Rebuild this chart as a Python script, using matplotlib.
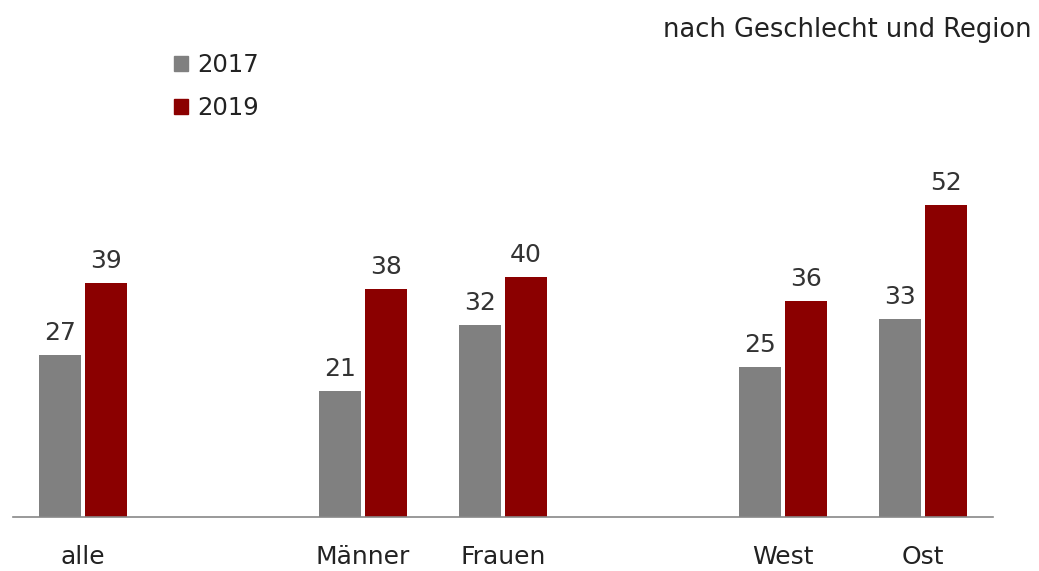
import matplotlib
matplotlib.use("Agg")
import matplotlib.pyplot as plt
from matplotlib.patches import Patch

categories = ["alle", "Männer", "Frauen", "West", "Ost"]
positions = [0, 2, 3, 5, 6]
values_2017 = [27, 21, 32, 25, 33]
values_2019 = [39, 38, 40, 36, 52]
series_labels = ["2017", "2019"]
title = "nach Geschlecht und Region"

c2017 = "#808080"
c2019 = "#8B0000"

fig = plt.figure(figsize=(10.39, 5.71), dpi=100)
ax = fig.add_axes([13/1039, 54/571, 980/1039, 517/571])
ax.set_xlim(-0.5, 6.5)
ax.set_ylim(0, 517/6)

w = 0.3
off = 0.164
b1 = ax.bar([p - off for p in positions], values_2017, width=w, color=c2017)
b2 = ax.bar([p + off for p in positions], values_2019, width=w, color=c2019)

for bars in (b1, b2):
    for rect in bars:
        h = rect.get_height()
        ax.annotate(f"{h:g}", (rect.get_x() + rect.get_width()/2, h),
                    xytext=(0, 7), textcoords="offset points",
                    ha="center", va="bottom", fontsize=18, color="#333333")

for s in ["top", "right", "left"]:
    ax.spines[s].set_visible(False)
ax.spines["bottom"].set_color("#888888")
ax.spines["bottom"].set_linewidth(1.2)
ax.set_yticks([])
ax.set_xticks(positions)
ax.set_xticklabels(categories, fontsize=18, color="#222222")
ax.tick_params(axis="x", length=0, pad=20)

handles = [Patch(color=c2017), Patch(color=c2019)]
leg = fig.legend(handles, series_labels, loc="upper left",
                 bbox_to_anchor=(152/1039, 1 - 31/571), frameon=False,
                 fontsize=17.5, handlelength=0.6, handleheight=0.6,
                 handletextpad=0.35, labelspacing=0.8)
for t in leg.get_texts():
    t.set_color("#222222")

fig.text(1032/1039, 1 - 30/571, title, ha="right", va="center",
         fontsize=18.5, color="#222222")

fig.savefig("out.png", dpi=100)
